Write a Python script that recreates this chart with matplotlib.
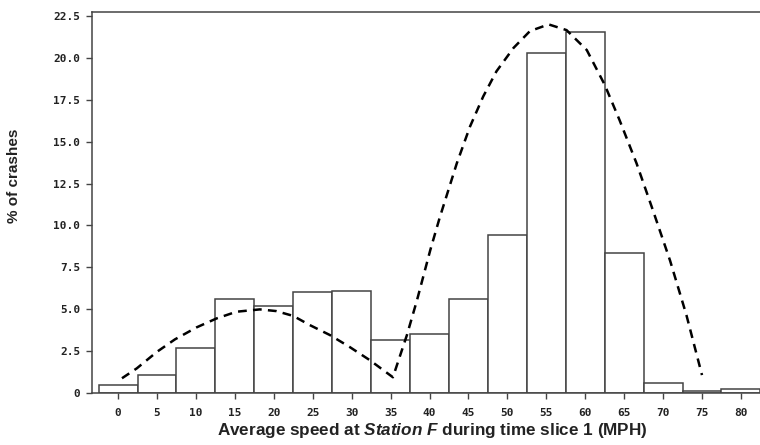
import matplotlib
matplotlib.use("Agg")
from matplotlib import pyplot as plt
from matplotlib.font_manager import FontProperties

# histogram bins (mph) and % of crashes
speed_bins = [0, 5, 10, 15, 20, 25, 30, 35, 40, 45, 50, 55, 60, 65, 70, 75, 80]
crash_pct = [0.45, 1.07, 2.68, 5.59, 5.17, 6.00, 6.07, 3.14, 3.54, 5.59,
             9.43, 20.27, 21.52, 8.33, 0.62, 0.14, 0.22]

# dashed fitted curve
curve_x = [0.5, 2.4, 5.0, 7.3, 10.1, 12.65, 15.2, 18.2, 20.3, 22.5, 24.6, 27.2,
           29.7, 32.3, 35.3, 37.1, 38.4, 40.1, 41.3, 43.5, 45.2, 46.9, 48.6,
           50.8, 52.9, 55.3, 57.6, 60.2, 62.5, 64.4, 66.6, 68.7, 70.9, 73.0, 75.0]
curve_y = [0.88, 1.47, 2.46, 3.2, 3.92, 4.45, 4.85, 4.99, 4.89, 4.6, 4.06, 3.46,
           2.76, 1.97, 0.94, 3.46, 5.55, 8.53, 10.45, 13.7, 15.9, 17.7, 19.2,
           20.6, 21.6, 22.0, 21.66, 20.47, 18.4, 16.3, 13.7, 10.9, 7.9, 4.65, 1.07]

y_ticks = [0, 2.5, 5.0, 7.5, 10.0, 12.5, 15.0, 17.5, 20.0, 22.5]
y_labels = ["0", "2.5", "5.0", "7.5", "10.0", "12.5", "15.0", "17.5", "20.0", "22.5"]

plt.rcParams['mathtext.fontset'] = 'custom'
plt.rcParams['mathtext.it'] = 'Liberation Sans:style=italic:weight=bold'
plt.rcParams['mathtext.rm'] = 'Liberation Sans:weight=bold'

fig = plt.figure(figsize=(7.6, 4.45), dpi=100)
ax = fig.add_axes([92 / 760, 52 / 445, 668 / 760, 381 / 445])

ax.bar(speed_bins, crash_pct, width=5, color="white", edgecolor="#444444",
       linewidth=1.1)
ax.plot(curve_x, curve_y, color="black", linestyle=(0, (3.5, 2.5)), linewidth=1.8)

ax.set_xlim(-3.35, 82.45)
ax.set_ylim(0, 22.74)
ax.set_xticks(speed_bins)
ax.set_yticks(y_ticks)
ax.set_yticklabels(y_labels)

for side in ["left", "top", "bottom"]:
    ax.spines[side].set_color("#444444")
    ax.spines[side].set_linewidth(1.1)
ax.spines["right"].set_visible(False)

tick_font = FontProperties(family="DejaVu Sans Mono", weight="bold", size=8)
ax.tick_params(axis="both", direction="out", length=4.5, width=1, color="#444444")
ax.tick_params(axis="x", pad=6)
ax.tick_params(axis="y", pad=4)
for lbl in ax.get_xticklabels() + ax.get_yticklabels():
    lbl.set_fontproperties(tick_font)
    lbl.set_color("#222222")

fig.text(432 / 760, 14 / 445,
         r"Average speed at $\mathit{Station\ F}$ during time slice 1 (MPH)",
         family="Liberation Sans", weight="bold", fontsize=12.3, color="#222222",
         ha="center", va="center")
fig.text(14 / 760, 1 - 176 / 445, "% of crashes", family="Liberation Sans",
         weight="bold", fontsize=11, color="#222222", rotation=90,
         ha="center", va="center")

fig.savefig("out.png", dpi=100)
